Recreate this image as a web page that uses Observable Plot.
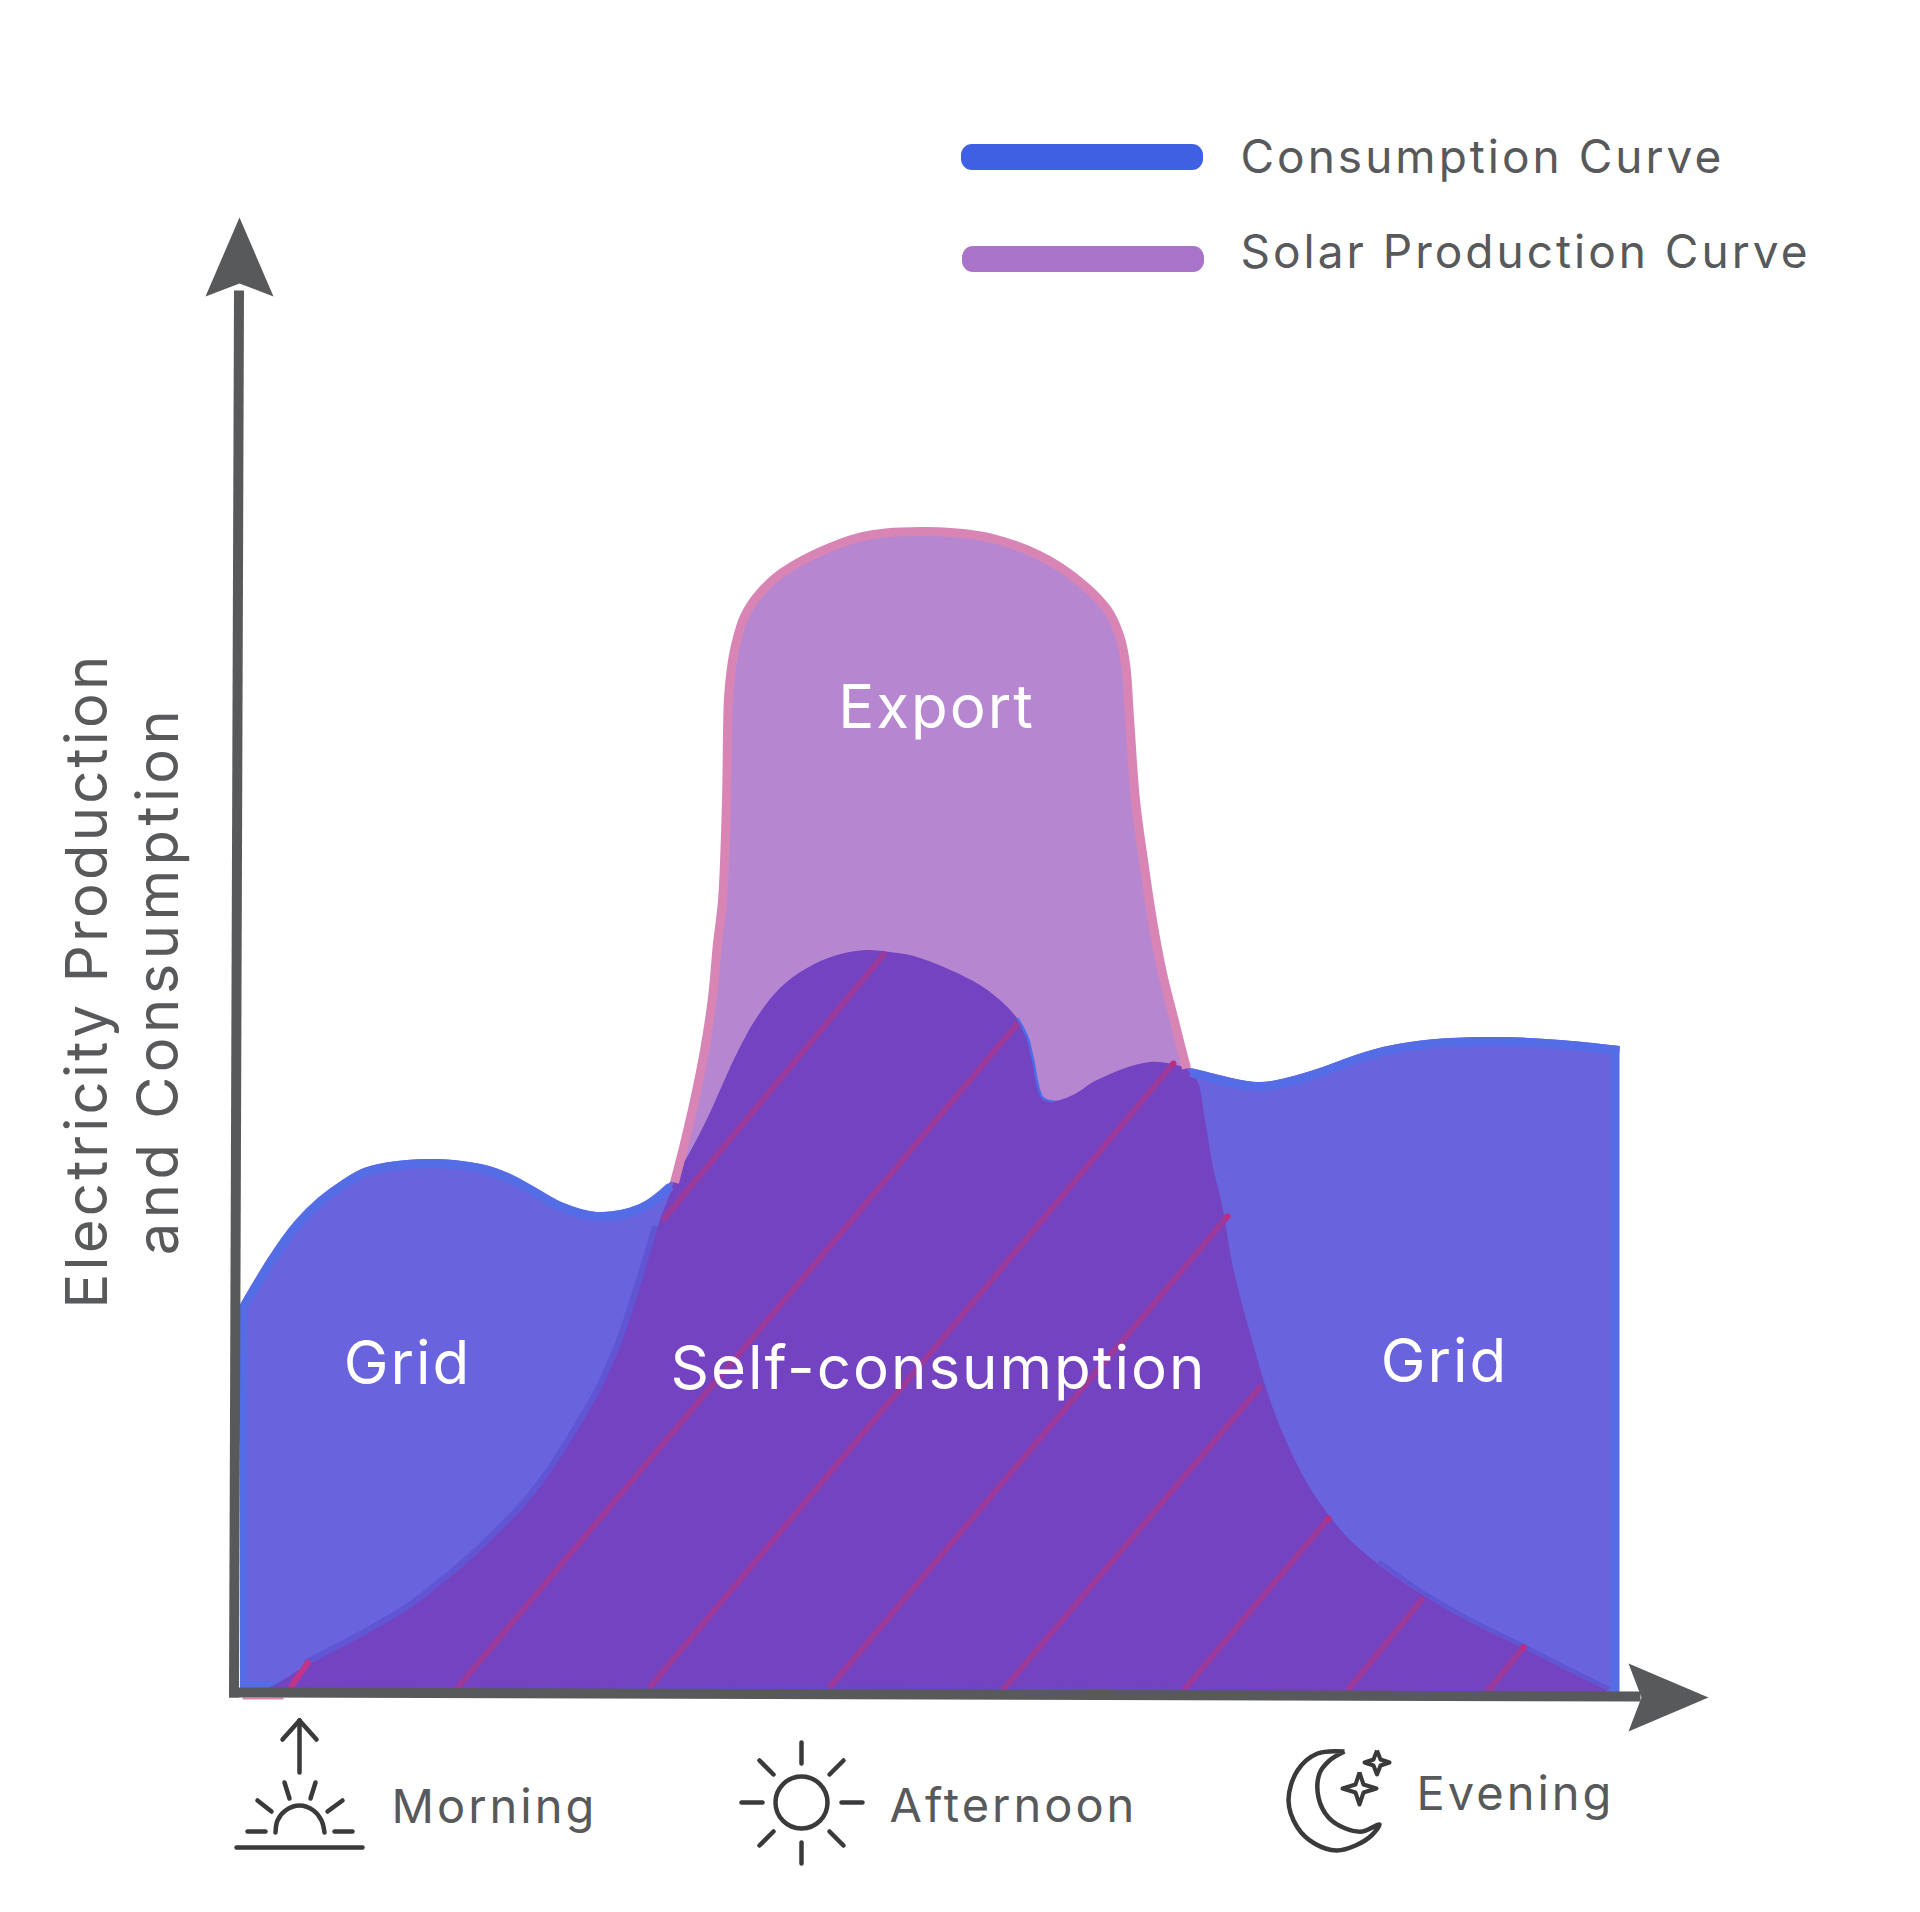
<!DOCTYPE html>
<html>
<head>
<meta charset="utf-8">
<script src="https://cdn.jsdelivr.net/npm/d3@7"></script>
<script src="https://cdn.jsdelivr.net/npm/@observablehq/plot@0.6"></script>
<style>
  body { margin: 0; background: #fff; }
  svg { display: block; }
  .region-label text { letter-spacing: 2px; }
  .side-label text { letter-spacing: 3px; }
  .axis-title-1 text { letter-spacing: 3.2px; }
  .axis-title-2 text { letter-spacing: 4.4px; }
</style>
</head>
<body>
<div id="chart"></div>
<script>
// curves: time of day along x, power level above the x axis along y
const consumptionX = [240,273,297,320,343,367,427,480,507,533,560,596,640,670,700,737,757,780,807,837,867,890,917,983,1017,1027,1032,1042,1053,1073,1097,1150,1190,1257,1290,1323,1350,1383,1417,1450,1500,1560,1619];
const consumptionLevel = [384,439,472,495,512,525,533,528,519,505,490,480,488,510,559,639,675,704,724,737,742,740,735,705,674,655,635,595,591,597,612,630,624,610,615,625,635,645,651,654,655,652,646];

const solarX = [260,270,283,307,340,373,407,440,473,503,527,550,573,595,605,622,640,657,674,684,694,704,712,717,722,726,727,728,731,735,744,760,785,858,927,996,1060,1106,1119,1125,1129,1135,1143,1152,1162,1172,1186,1197,1205,1213,1222,1233,1250,1270,1287,1307,1327,1350,1377,1423,1470,1523,1570,1607];
const solarLevel = [0,5,12,27,44,62,82,107,135,164,189,219,255,292,312,352,407,464,510,549,592,642,695,749,792,892,959,995,1025,1047,1076,1100,1122,1155,1161,1153,1125,1084,1057,1029,975,892,832,772,719,679,624,612,572,525,487,425,359,292,249,209,179,152,129,97,70,44,20,2];

// hatching inside the self-consumption zone: x1, y1, x2, y2 (y from the top of the picture)
const hatchLines = [
  [662,1220,885,952],
  [457,1687,1018,1022],
  [649,1687,1173,1063],
  [829,1687,1227,1216],
  [1002,1690,1261,1385],
  [1183,1690,1328,1518],
  [1347,1690,1423,1597],
  [1487,1691,1523,1647]
];
const shortHatch = [[290,1687,309,1660]];
const hatchTips = [[1173,1063],[1227,1216],[1328,1518],[1523,1647]];

const regionLabels = ['Export', 'Grid', 'Self-consumption', 'Grid'];
const regionX = [936, 407, 938, 1444];
const regionY = [727, 1383, 1388, 1381];

const legendLabels = ['Consumption Curve', 'Solar Production Curve'];
const legendColors = ['#4060e4', '#a873c8'];
const legendY = [157, 259];
const legendTextY = [172, 267];

const timeLabels = ['Morning', 'Afternoon', 'Evening'];
const timeX = [391, 889, 1416];
const timeY = [1822, 1821, 1809];

const axisTitle = ['Electricity Production', 'and Consumption'];
const axisTitleX = [106, 177];

// axes and arrow heads
const xAxisLine = [[229,1692],[1640,1696]];
const yAxisLine = [[238.5,290],[233.5,1697]];
const xArrowHead = [[1708,1697],[1628,1663],[1641,1697],[1628,1731]];
const yArrowHead = [[239,217],[205,296],[239,283],[273,296]];

// small edge details of the curves
const rightEdge = [[1614.5,1046],[1614.5,1692]];
const leftEdge = [[243,1308],[243,1690]];
const bottomEdge = [[483,1687],[900,1686],[1250,1690]];
const cornerEdge = [[246,1684],[284,1684]];
const underAxisStreak = [[242,1698],[283,1698]];

// icons
const morningStrokes = [
  [299,1720,299,1772],[282,1739,299,1720],[299,1720,316,1739],
  [284,1782,289,1798],[315,1782,310,1798],[257,1800,271,1811],[342,1800,327,1811],
  [247,1831,265,1831],[334,1831,352,1831],[236,1847,362,1847]
];
const morningArc = [[275,1832],[277,1820],[285,1810],[299,1805],[313,1810],[321,1820],[324,1832]];
const sunCenter = [[801,1802]];
const sunRays = [
  [801,1742,801,1763],[801,1842,801,1863],[741,1802,762,1802],[841,1802,862,1802],
  [759,1760,773,1774],[843,1760,829,1774],[759,1845,773,1831],[843,1845,829,1831]
];
const moonOutline = [[1344,1751],[1317,1753],[1297,1770],[1288,1800],[1297,1827],[1314,1843],[1336,1850],[1355,1845],[1371,1835],[1379,1824],[1362,1831],[1345,1828],[1328,1817],[1318,1797],[1319,1773],[1329,1760],[1344,1751]];
const bigStar = [[1359,1772],[1363,1784],[1376,1788],[1363,1792],[1359,1804],[1355,1792],[1342,1788],[1355,1784],[1359,1772]];
const smallStar = [[1376.5,1750],[1380,1759],[1389,1762],[1380,1765],[1376.5,1774],[1373,1765],[1364,1762],[1373,1759],[1376.5,1750]];

const baseY = 1692;
const lvl = (y) => baseY - y;

const consumption = consumptionX.map((x, i) => ({x, level: consumptionLevel[i]}));
const solar = solarX.map((x, i) => ({x, level: solarLevel[i]}));

const pageLine = (pts, opts) => Plot.line(pts, {x: (d) => d[0], y: (d) => lvl(d[1]), strokeLinecap: 'butt', ...opts});
const pageLinks = (rows, opts) => Plot.link(rows, {
  x1: (d) => d[0], y1: (d) => lvl(d[1]), x2: (d) => d[2], y2: (d) => lvl(d[3]), ...opts
});
const curveLine = (rows, opts) => Plot.line(rows, {x: 'x', y: 'level', curve, strokeLinecap: 'butt', ...opts});

const curve = 'catmull-rom';
const grey = '#58595b';
const iconInk = '#3a3a3c';
const blue = '#546de6';
const fringe = '#6056d4';
const font = 'Inter, "Noto Sans", sans-serif';

const chart = Plot.plot({
  width: 1920,
  height: 1912,
  margin: 0,
  x: {domain: [0, 1920], range: [0, 1920], axis: null},
  y: {domain: [baseY, baseY - 1912], range: [0, 1912], axis: null},
  style: {fontFamily: font, background: '#fff'},
  marks: [
    Plot.areaY(consumption, {x: 'x', y1: 0, y2: 'level', fill: '#6964dd', curve}),
    pageLine(rightEdge, {stroke: blue, strokeWidth: 9}),
    pageLine(leftEdge, {stroke: blue, strokeWidth: 7}),
    pageLine(bottomEdge, {stroke: blue, strokeWidth: 4}),
    pageLine(cornerEdge, {stroke: blue, strokeWidth: 6}),

    Plot.areaY(solar, {x: 'x', y1: 0, y2: 'level', fill: '#7d29ab', fillOpacity: 0.56, curve}),

    // darker fringe of the solar curve where it runs over the blue
    curveLine(solar.filter((d) => d.x >= 307 && d.x <= 657), {stroke: fringe, strokeWidth: 6, dx: -2.5, dy: -2.5}),
    curveLine(solar.filter((d) => d.x >= 1377), {stroke: fringe, strokeWidth: 4, dx: 1.5, dy: -2}),

    // visible parts of the coloured outlines
    curveLine(solar.filter((d) => d.x >= 674 && d.x <= 1186), {stroke: '#d885b5', strokeWidth: 9}),
    curveLine(consumption.filter((d) => d.x <= 670), {stroke: blue, strokeWidth: 9, dy: 4}),
    curveLine(consumption.filter((d) => d.x >= 1190), {stroke: blue, strokeWidth: 9, dy: 4}),
    curveLine(consumption.filter((d) => d.x >= 1017 && d.x <= 1053), {stroke: '#4a6ee8', strokeWidth: 2.5}),

    pageLinks(hatchLines, {stroke: '#9c3a9c', strokeWidth: 6}),
    pageLinks(shortHatch, {stroke: '#c2338a', strokeWidth: 6}),
    Plot.dot(hatchTips, {x: (d) => d[0], y: (d) => lvl(d[1]), r: 3, fill: '#c02c7c'}),

    pageLine(underAxisStreak, {stroke: '#d885b5', strokeWidth: 2}),

    // axes
    pageLine(xAxisLine, {stroke: grey, strokeWidth: 10}),
    pageLine(yAxisLine, {stroke: grey, strokeWidth: 10}),
    pageLine(xArrowHead, {fill: grey, stroke: 'none'}),
    pageLine(yArrowHead, {fill: grey, stroke: 'none'}),

    Plot.text(regionLabels, {
      x: regionX, y: regionY.map(lvl), text: (d) => d, className: 'region-label',
      fill: '#fff', fontSize: 60, fontWeight: 400, lineAnchor: 'bottom'
    }),

    // legend
    Plot.rect(legendLabels, {
      x1: [961, 962], x2: [1203, 1204],
      y1: legendY.map((y) => lvl(y - 13)), y2: legendY.map((y) => lvl(y + 13)),
      fill: legendColors, rx: 11
    }),
    Plot.text(legendLabels, {
      x: 1240, y: legendTextY.map(lvl), text: (d) => d, className: 'side-label',
      fill: grey, fontSize: 46, textAnchor: 'start', lineAnchor: 'bottom'
    }),

    Plot.text(timeLabels, {
      x: timeX, y: timeY.map(lvl), text: (d) => d, className: 'side-label',
      fill: grey, fontSize: 47, textAnchor: 'start', lineAnchor: 'bottom'
    }),

    Plot.text(axisTitle.slice(0, 1), {
      x: axisTitleX[0], y: lvl(980), text: (d) => d, className: 'axis-title-1',
      fill: grey, fontSize: 58, rotate: -90, lineAnchor: 'bottom'
    }),
    Plot.text(axisTitle.slice(1), {
      x: axisTitleX[1], y: lvl(980), text: (d) => d, className: 'axis-title-2',
      fill: grey, fontSize: 58, rotate: -90, lineAnchor: 'bottom'
    }),

    // time of day icons
    pageLinks(morningStrokes, {stroke: iconInk, strokeWidth: 4.5, strokeLinecap: 'round'}),
    pageLine(morningArc, {stroke: iconInk, strokeWidth: 4.5, strokeLinecap: 'round', curve}),
    Plot.dot(sunCenter, {x: (d) => d[0], y: (d) => lvl(d[1]), r: 26, stroke: iconInk, strokeWidth: 4.5, fill: 'none'}),
    pageLinks(sunRays, {stroke: iconInk, strokeWidth: 4.5, strokeLinecap: 'round'}),
    pageLine(moonOutline, {stroke: iconInk, strokeWidth: 4.5, curve}),
    pageLine(bigStar, {stroke: iconInk, strokeWidth: 4}),
    pageLine(smallStar, {stroke: iconInk, strokeWidth: 4})
  ]
});

d3.select('#chart').append(() => chart);
</script>
</body>
</html>
